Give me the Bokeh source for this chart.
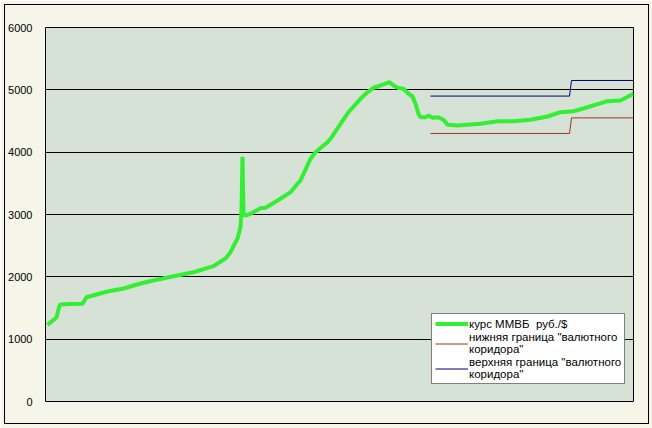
from bokeh.plotting import figure
from bokeh.models import Legend, LegendItem, Range1d, FixedTicker, InlineStyleSheet
from bokeh.embed import file_html
from bokeh.resources import INLINE

# trading-day index and MICEX rate, rub/$
days = [2, 11, 14, 15, 25, 37, 41, 52, 62, 78, 95, 110, 128, 148, 168, 180, 185,
        192, 195, 196, 197, 198, 200, 205, 215, 220, 235, 245, 252, 255, 265, 270,
        282, 285, 295, 303, 312, 315, 322, 328, 333, 338, 344, 348, 352, 358, 363,
        367, 370, 373, 375, 380, 383, 387, 393, 398, 402, 412, 425, 435, 452, 468,
        485, 502, 515, 528, 542, 562, 575, 588]
rate = [1230, 1348, 1540, 1556, 1565, 1567, 1673, 1720, 1765, 1813, 1893, 1950,
        2010, 2074, 2171, 2294, 2395, 2615, 2800, 3064, 3926, 3000, 2984, 3011,
        3101, 3108, 3252, 3358, 3493, 3546, 3894, 4000, 4160, 4215, 4455, 4641,
        4802, 4856, 4962, 5033, 5058, 5086, 5122, 5070, 5033, 5017, 4937, 4893,
        4776, 4616, 4561, 4561, 4588, 4551, 4561, 4519, 4439, 4428, 4444, 4455,
        4497, 4497, 4519, 4572, 4641, 4657, 4721, 4818, 4829, 4937]

# currency corridor bounds
corr_days = [385, 524, 526, 588]
lower = [4300, 4300, 4550, 4550]
upper = [4900, 4900, 5150, 5150]

y_ticks = [0, 1000, 2000, 3000, 4000, 5000, 6000]

W, H = 652, 428
p = figure(width=W, height=H, output_backend="svg", toolbar_location=None,
           x_range=Range1d(0, 588), y_range=Range1d(0, 6000),
           min_border_left=45, min_border_right=W - 633, min_border_top=27,
           min_border_bottom=H - 401)

# outer chart border (drawn over the canvas)
p.stylesheets = [InlineStyleSheet(css=(
    ":host { position: relative; }"
    ":host::after { content: ''; position: absolute; left: 4px; top: 4px;"
    " width: 645px; height: 420px; border: 1px solid black;"
    " box-sizing: border-box; pointer-events: none; z-index: 100; }"
))]

p.border_fill_color = "#f5f5e9"
p.background_fill_color = "#d6e2d5"
p.outline_line_color = "black"
p.outline_line_width = 1

p.xaxis.visible = False
p.xgrid.visible = False
p.yaxis.ticker = FixedTicker(ticks=y_ticks)
p.yaxis.axis_line_color = None
p.yaxis.major_tick_line_color = None
p.yaxis.minor_tick_line_color = None
p.yaxis.major_tick_out = 0
p.yaxis.major_tick_in = 0
p.yaxis.major_label_standoff = 13
p.yaxis.major_label_text_font = "Liberation Sans"
p.yaxis.major_label_text_font_size = "11px"
p.yaxis.major_label_text_color = "black"
p.ygrid.grid_line_color = "black"
p.ygrid.grid_line_width = 1

r1 = p.line(days, rate, line_color="#33ee33", line_width=4)
r2 = p.line(corr_days, lower, line_color="#a03425", line_width=1)
r3 = p.line(corr_days, upper, line_color="#000070", line_width=1)

legend = Legend(items=[
    LegendItem(label="курс ММВБ  руб./$", renderers=[r1]),
    LegendItem(label='нижняя граница "валютного\nкоридора"', renderers=[r2]),
    LegendItem(label='верхняя граница "валютного\nкоридора"', renderers=[r3]),
], location=(386, 17))
legend.background_fill_color = "white"
legend.background_fill_alpha = 1
legend.border_line_color = "black"
legend.border_line_width = 1
legend.label_text_font = "Liberation Sans"
legend.label_text_font_size = "11.5px"
legend.label_text_color = "black"
legend.glyph_width = 33
legend.glyph_height = 13
legend.label_height = 13
legend.label_standoff = 1
legend.spacing = 1
legend.padding = 3
legend.margin = 0
p.add_layout(legend, "center")

open("out.html", "w").write(file_html(p, INLINE))
